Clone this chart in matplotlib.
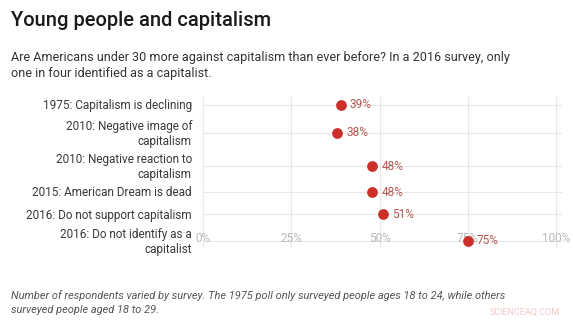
import matplotlib
matplotlib.use("Agg")
import matplotlib.pyplot as plt

plt.rcParams['font.family'] = ['Roboto', 'DejaVu Sans']

categories = [
    "1975: Capitalism is declining",
    "2010: Negative image of\ncapitalism",
    "2010: Negative reaction to\ncapitalism",
    "2015: American Dream is dead",
    "2016: Do not support capitalism",
    "2016: Do not identify as a\ncapitalist",
]
values = [39, 38, 48, 48, 51, 75]
x_ticks = [0, 25, 50, 75, 100]

W, H = 573, 324
fig = plt.figure(figsize=(W / 100, H / 100), dpi=100)
fig.patch.set_facecolor("white")

# axes in pixel layout: left 203 (0%) .. 100% at 556
ax_left, ax_right = 203, 562
ax_top, ax_bottom = 95, 250
ax = fig.add_axes([ax_left / W, 1 - ax_bottom / H, (ax_right - ax_left) / W, (ax_bottom - ax_top) / H])
px_per_unit = (556 - 203) / 100
ax.set_xlim(0, (ax_right - ax_left) / px_per_unit)
ax.set_ylim(ax_bottom, ax_top)

# row centres (pixels from top)
row_y = [105, 133, 166, 192, 214, 241]

for s in ax.spines.values():
    s.set_visible(False)
ax.set_xticks([])
ax.set_yticks([])

grid_c = "#e8e8e8"
for t in x_ticks:
    ax.plot([t, t], [97, 247], color=grid_c, lw=0.8, zorder=0)
for y in row_y:
    ax.plot([0, ax.get_xlim()[1]], [y, y], color=grid_c, lw=0.8, zorder=0)

for t in x_ticks:
    ax.text(t, 238, f"{t}%", ha="center", va="center", fontsize=8.5, color="#b8b8b8",
            zorder=1)

ax.scatter(values, row_y, s=60, color="#cc2f2a", zorder=3, linewidths=0)
for v, y in zip(values, row_y):
    ax.text(v + 9 / px_per_unit, y, f"{v}%", ha="left", va="center", fontsize=8.5,
            color="#b5574f", zorder=4)

for c, y in zip(categories, row_y):
    ax.text(-11 / px_per_unit, y + 1, c, ha="right", va="center", fontsize=8.5,
            color="#3a3a3a", linespacing=1.12, clip_on=False)

fig.text(11 / W, 1 - 21 / H, "Young people and capitalism", ha="left", va="center",
         fontsize=14.5, color="#1a1a1a", weight="medium")
fig.text(11 / W, 1 - 57 / H,
         "Are Americans under 30 more against capitalism than ever before? In a 2016 survey, only",
         ha="left", va="center", fontsize=9.1, color="#333333")
fig.text(11 / W, 1 - 73 / H, "one in four identified as a capitalist.",
         ha="left", va="center", fontsize=9.1, color="#333333")

fig.text(11 / W, 1 - 296 / H,
         "Number of respondents varied by survey. The 1975 poll only surveyed people ages 18 to 24, while others",
         ha="left", va="center", fontsize=7.9, color="#555555", style="italic")
fig.text(11 / W, 1 - 310 / H, "surveyed people aged 18 to 29.",
         ha="left", va="center", fontsize=7.9, color="#555555", style="italic")
fig.text(560 / W, 1 - 312 / H, "SCIENCEAQ.COM", ha="right", va="center",
         fontsize=6.5, color="#f0c8c8")

fig.savefig("out.png", dpi=100)
